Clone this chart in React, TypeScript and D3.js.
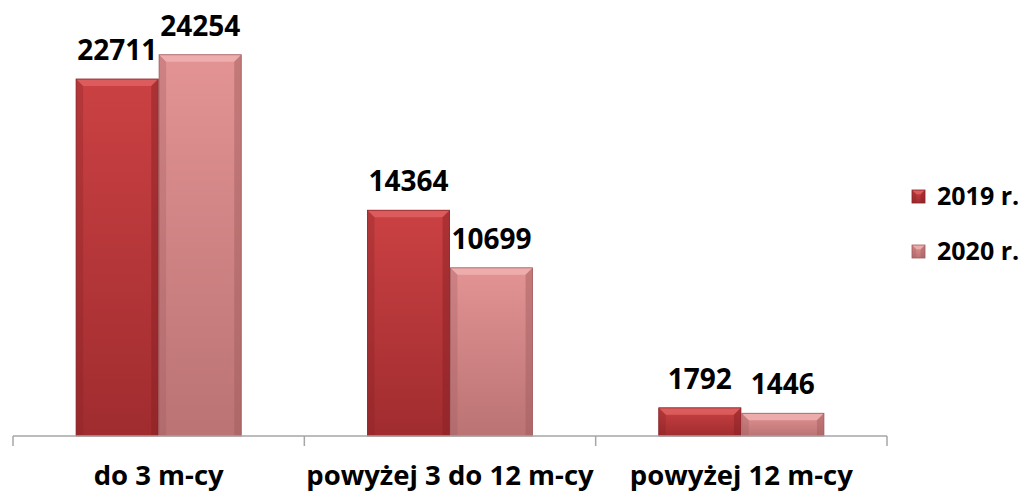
import React from 'react';
import * as d3 from 'd3';

const categories = ['do 3 m-cy', 'powyżej 3 do 12 m-cy', 'powyżej 12 m-cy'];
const seriesNames = ['2019 r.', '2020 r.'];
const values2019 = [22711, 14364, 1792];
const values2020 = [24254, 10699, 1446];

const W = 1031;
const H = 492;
const base = 436;
const font = '"Open Sans", "Noto Sans", sans-serif';

const palette = [
  { top: '#cb4143', bottom: '#a02c2f', edgeLight: '#df6060', edgeDark: '#862024' },
  { top: '#e39393', bottom: '#bb7374', edgeLight: '#f0b2b2', edgeDark: '#a05a5c' },
];

const Bar = ({ x, y, w, h, s }: { x: number; y: number; w: number; h: number; s: number }) => {
  const b = Math.min(7, h / 3);
  const c = palette[s];
  return (
    <g>
      <rect x={x} y={y} width={w} height={h} fill={`url(#grad${s})`} />
      <polygon points={`${x},${y} ${x + w},${y} ${x + w - b},${y + b} ${x + b},${y + b}`} fill={c.edgeLight} opacity={0.85} />
      <polygon points={`${x},${y} ${x + b},${y + b} ${x + b},${y + h} ${x},${y + h}`} fill={c.edgeDark} opacity={0.3} />
      <polygon points={`${x + w},${y} ${x + w - b},${y + b} ${x + w - b},${y + h} ${x + w},${y + h}`} fill={c.edgeDark} opacity={0.45} />
      <rect x={x} y={y} width={w} height={h} fill="none" stroke={c.edgeDark} strokeWidth={0.8} />
    </g>
  );
};

export default function App() {
  const x0 = d3.scaleBand().domain(categories).range([13, 887]).paddingInner(0).paddingOuter(0);
  const x1 = d3.scaleBand().domain(seriesNames).range([0, x0.bandwidth()]).paddingInner(0.01).paddingOuter(0.76);
  const y = d3.scaleLinear().domain([0, 27000]).range([base, base - 424.4]);
  const data = [values2019, values2020];
  const ticks = [...categories.map((c) => x0(c) as number), 887];

  return (
    <svg width={W} height={H} style={{ position: 'absolute', left: 0, top: 0 }}>
      <defs>
        {palette.map((c, i) => (
          <linearGradient key={i} id={`grad${i}`} x1="0" y1="0" x2="0" y2="1">
            <stop offset="0%" stopColor={c.top} />
            <stop offset="100%" stopColor={c.bottom} />
          </linearGradient>
        ))}
      </defs>
      {categories.map((cat, ci) =>
        seriesNames.map((sn, si) => {
          const v = data[si][ci];
          const bx = (x0(cat) as number) + (x1(sn) as number);
          const bw = x1.bandwidth();
          return (
            <g key={cat + sn}>
              <Bar x={bx} y={y(v)} w={bw} h={base - y(v)} s={si} />
              <text x={bx + bw / 2} y={y(v) - 19} textAnchor="middle" fontFamily={font} fontWeight="bold" fontSize={28} fill="#000">
                {v}
              </text>
            </g>
          );
        })
      )}
      <line x1={13} x2={887} y1={base} y2={base} stroke="#a6a6a6" strokeWidth={1.5} />
      {ticks.map((t, i) => (
        <line key={i} x1={t} x2={t} y1={base} y2={base + 10} stroke="#a6a6a6" strokeWidth={1.5} />
      ))}
      {categories.map((cat) => (
        <text key={cat} x={(x0(cat) as number) + x0.bandwidth() / 2} y={485} textAnchor="middle" fontFamily={font} fontWeight="bold" fontSize={27.5} fill="#000">
          {cat}
        </text>
      ))}
      {seriesNames.map((sn, i) => (
        <g key={sn} transform={`translate(912, ${190 + i * 55})`}>
          <Bar x={0} y={0} w={13} h={13} s={i} />
          <text x={25} y={15} fontFamily={font} fontWeight="bold" fontSize={25} fill="#000">
            {sn}
          </text>
        </g>
      ))}
    </svg>
  );
}
